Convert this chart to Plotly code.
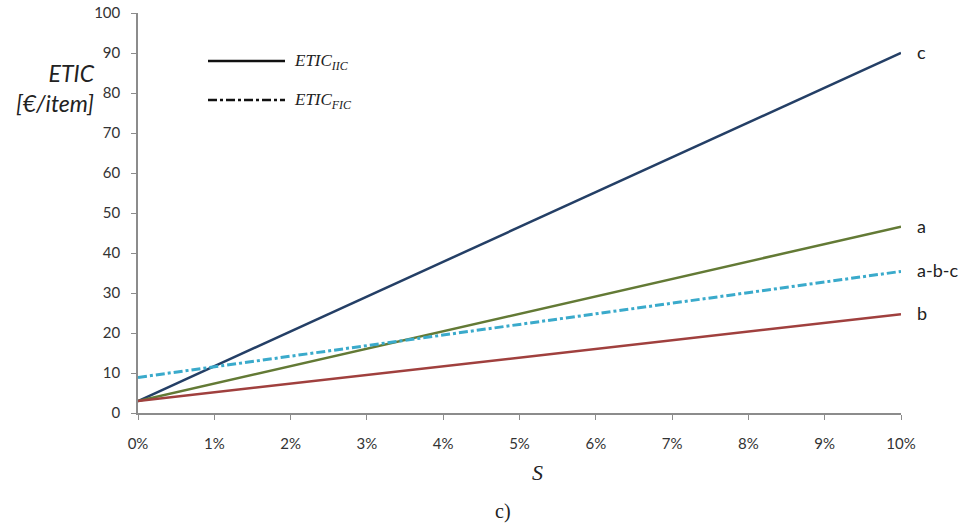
import plotly.graph_objects as go

# Data (S in %, ETIC in €/item)
s_pts = [0, 10]
etic_c = [3.0, 90.0]
etic_a = [3.0, 46.6]
etic_b = [3.0, 24.7]
etic_abc = [8.9, 35.4]

series_names = ["c", "a", "b", "a-b-c"]
x_ticks = list(range(0, 11))
x_tick_labels = [f"{v}%" for v in x_ticks]
y_ticks = list(range(0, 101, 10))

colors = {"c": "#243F66", "a": "#637A35", "b": "#A0403E", "a-b-c": "#3AAACB"}
font_main = "Lato, Open Sans, sans-serif"
font_serif = "Liberation Serif, serif"

fig = go.Figure()
for name, ys in zip(series_names, [etic_c, etic_a, etic_b, etic_abc]):
    dash = "dashdot" if name == "a-b-c" else "solid"
    width = 3 if name == "a-b-c" else 2.5
    fig.add_trace(go.Scatter(x=s_pts, y=ys, mode="lines", name=name,
                             line=dict(color=colors[name], width=width, dash=dash),
                             showlegend=False, hoverinfo="skip"))
    fig.add_annotation(x=s_pts[-1], y=ys[-1], xref="x", yref="y", text=name,
                       showarrow=False, xanchor="left", yanchor="middle", xshift=14, yshift=1,
                       font=dict(family=font_main, size=18, color="#222"))

fig.update_layout(
    width=973, height=529,
    margin=dict(l=138, r=72, t=13, b=116, autoexpand=False),
    paper_bgcolor="white", plot_bgcolor="white",
    xaxis=dict(range=[0, 10], tickvals=x_ticks, ticktext=x_tick_labels, automargin=False,
               showgrid=False, zeroline=False, showline=True, linecolor="#8c8c8c", linewidth=1.5,
               ticks="outside", ticklen=5, tickcolor="#8c8c8c", ticklabelstandoff=11,
               tickfont=dict(family=font_main, size=15, color="#333")),
    yaxis=dict(range=[0, 100], tickvals=y_ticks, automargin=False,
               showgrid=False, zeroline=False, showline=True, linecolor="#8c8c8c", linewidth=1.5,
               ticks="outside", ticklen=5, tickcolor="#8c8c8c", ticklabelstandoff=8,
               tickfont=dict(family=font_main, size=15, color="#333")),
)

# Legend drawn as line samples + labels
fig.add_shape(type="line", xref="paper", yref="paper", x0=(208-138)/763, x1=(285-138)/763,
              y0=(413-61)/400, y1=(413-61)/400, line=dict(color="#111", width=2.5))
fig.add_shape(type="line", xref="paper", yref="paper", x0=(208-138)/763, x1=(285-138)/763,
              y0=(413-100)/400, y1=(413-100)/400, line=dict(color="#111", width=2.5, dash="dashdot"))
fig.add_annotation(xref="paper", yref="paper", x=(292-138)/763, y=(413-62)/400,
                   text="<i>ETIC<sub>IIC</sub></i>", showarrow=False, xanchor="left", yanchor="middle",
                   font=dict(family=font_serif, size=17, color="#222"))
fig.add_annotation(xref="paper", yref="paper", x=(292-138)/763, y=(413-101)/400,
                   text="<i>ETIC<sub>FIC</sub></i>", showarrow=False, xanchor="left", yanchor="middle",
                   font=dict(family=font_serif, size=17, color="#222"))

# Axis titles
fig.add_annotation(xref="paper", yref="paper", x=(97-138)/763, y=(413-88)/400,
                   text="<i>ETIC</i><br><i>[€/item]</i>", showarrow=False, xanchor="right",
                   yanchor="middle", align="right",
                   font=dict(family=font_main, size=23, color="#222"))
fig.add_annotation(xref="paper", yref="paper", x=(537-138)/763, y=(413-472)/400,
                   text="<i>S</i>", showarrow=False, xanchor="center", yanchor="middle",
                   font=dict(family=font_serif, size=22, color="#222"))
fig.add_annotation(xref="paper", yref="paper", x=(503-138)/763, y=(413-511)/400,
                   text="c)", showarrow=False, xanchor="center", yanchor="middle",
                   font=dict(family=font_serif, size=20, color="#222"))

fig.write_html("out.html", config={"displayModeBar": False},
               post_script="document.body.style.margin='0';")
